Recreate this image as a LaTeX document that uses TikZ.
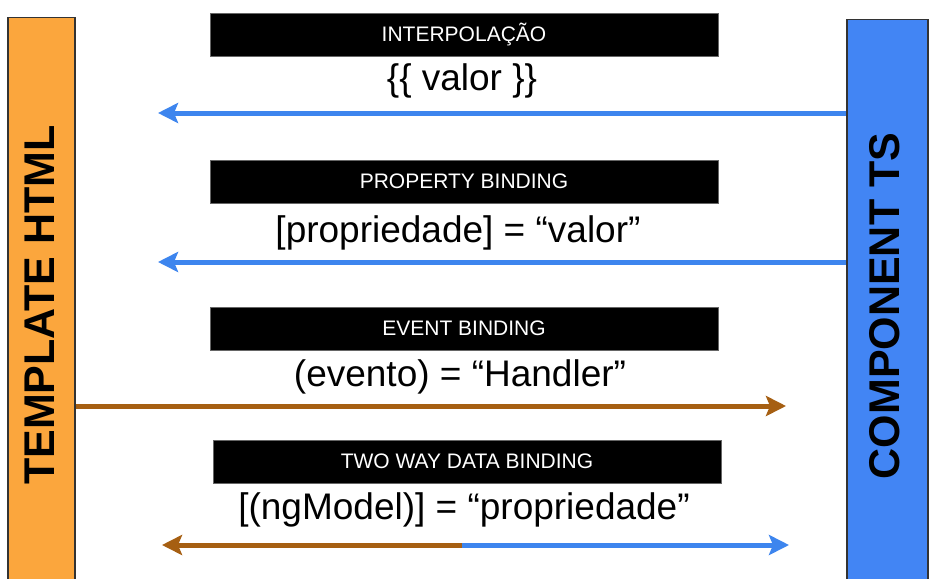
\documentclass[tikz,border=0pt]{standalone}
\usepackage{fontspec}
\setmainfont{Liberation Sans}
\usetikzlibrary{arrows.meta, positioning}
\definecolor{tplorange}{HTML}{FBA63D}
\definecolor{cmpblue}{HTML}{4285F4}
\definecolor{arrblue}{HTML}{3D85EE}
\definecolor{arrbrown}{HTML}{A65F12}
\tikzset{
    sidebox/.style={draw=black!80, line width=1.5pt, rectangle, minimum width=67pt, minimum height=600pt, inner sep=0pt},
    sidelabel/.style={rotate=90, font=\fontsize{43}{43}\selectfont\bfseries, text=black},
    bar/.style={rectangle, fill=black, draw=black!60, line width=0.5pt, minimum width=508pt, minimum height=43pt, inner sep=0pt, text=white, font=\fontsize{21}{22}\selectfont},
    code/.style={inner sep=0pt, font=\fontsize{37}{38}\selectfont, text=black},
    bluearrow/.style={draw=arrblue, line width=5pt, -{Stealth[length=20pt, width=20pt, inset=4pt]}},
    brownarrow/.style={draw=arrbrown, line width=5pt, -{Stealth[length=20pt, width=20pt, inset=4pt]}}
}
\begin{document}
\begin{tikzpicture}[x=1pt, y=-1pt]
        \useasboundingbox (0,0) rectangle (933,578);
        \clip (0,0) rectangle (933,578);
        \fill[white] (0,0) rectangle (933,578);

        % -----------------------------------------------------------------
        % LATERAIS
        % -----------------------------------------------------------------
        \node[sidebox, fill=tplorange, anchor=north west] (template) at (7,17) {};
        \node[sidelabel] (templatelbl) at (40,305) {TEMPLATE HTML};

        \node[sidebox, fill=cmpblue, minimum width=81pt, anchor=north west] (component) at (846,19) {};
        \node[sidelabel] (componentlbl) at (885,306) {COMPONENT TS};

        % -----------------------------------------------------------------
        % INTERPOLACAO
        % -----------------------------------------------------------------
        \node[bar] (interp) at (464,34.5) {INTERPOLAÇÃO};
        \node[code] (interpcode) at (462,81) {\{\{ valor \}\}};
        \coordinate (interpend) at (158,113);
        \draw[bluearrow] (component.west |- interpend) -- (interpend);

        % -----------------------------------------------------------------
        % PROPERTY BINDING
        % -----------------------------------------------------------------
        \node[bar] (prop) at (464,181.5) {PROPERTY BINDING};
        \node[code] (propcode) at (458,233) {[propriedade] = “valor”};
        \coordinate (propend) at (158,262);
        \draw[bluearrow] (component.west |- propend) -- (propend);

        % -----------------------------------------------------------------
        % EVENT BINDING
        % -----------------------------------------------------------------
        \node[bar] (event) at (464,328.5) {EVENT BINDING};
        \node[code] (eventcode) at (460,377) {(evento) = “Handler”};
        \coordinate (eventend) at (786,406);
        \draw[brownarrow] (template.east |- eventend) -- (eventend);

        % -----------------------------------------------------------------
        % TWO WAY DATA BINDING
        % -----------------------------------------------------------------
        \node[bar] (twoway) at (467,461.5) {TWO WAY DATA BINDING};
        \node[code] (twowaycode) at (464,510) {[(ngModel)] = “propriedade”};
        \coordinate (twowaymid) at (462,545);
        \coordinate (twowayleft) at (162,545);
        \coordinate (twowayright) at (789,545);
        \draw[brownarrow] (twowaymid) -- (twowayleft);
        \draw[bluearrow] (twowaymid) -- (twowayright);

\end{tikzpicture}
\end{document}
